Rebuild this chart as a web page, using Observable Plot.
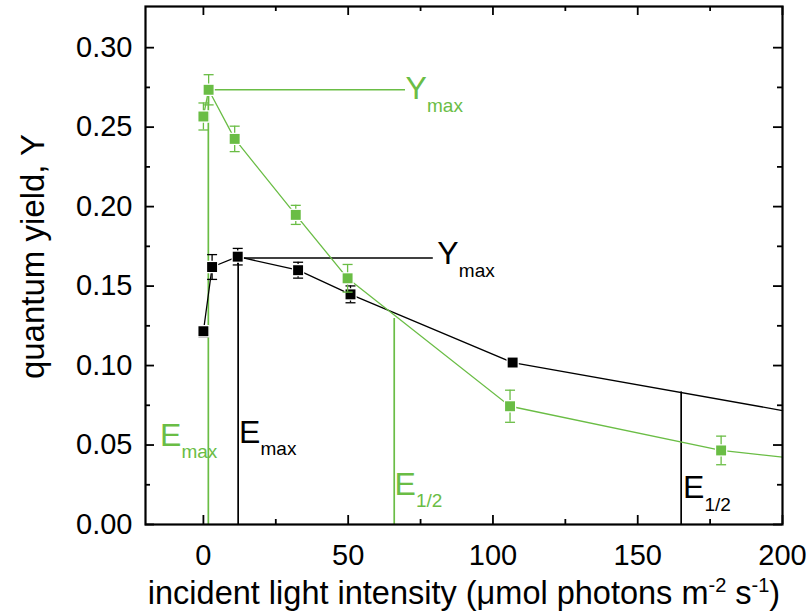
<!DOCTYPE html>
<html><head><meta charset="utf-8">
<script src="https://cdn.jsdelivr.net/npm/d3@7"></script>
<script src="https://cdn.jsdelivr.net/npm/@observablehq/plot@0.6"></script>
<style>body{margin:0;background:#fff} svg{display:block}</style>
</head><body><div id="chart"></div>
<script>
const green = "#6abd45";
// green series (light-acclimated)
const greenX = [0, 1.8, 10.8, 31.9, 49.8, 105.9, 178.8];
const greenY = [0.2567, 0.2735, 0.2426, 0.1948, 0.1549, 0.0744, 0.0466];
const greenErr = [0.0085, 0.0095, 0.008, 0.006, 0.0087, 0.0101, 0.009];
const greenEndX = 200, greenEndY = 0.0424;
// black series
const blackX = [0, 3.0, 11.85, 32.7, 50.8, 106.8];
const blackY = [0.1216, 0.162, 0.1685, 0.160, 0.1448, 0.1019];
const blackErr = [0.0035, 0.0078, 0.0052, 0.005, 0.0053, 0.0015];
const blackEndX = 200, blackEndY = 0.0717;
// axis ticks
const xTicks = [0, 50, 100, 150, 200];
const xMinor = [25, 75, 125, 175];
const yTicks = [0, 0.05, 0.10, 0.15, 0.20, 0.25, 0.30];
const yMinor = [0.025, 0.075, 0.125, 0.175, 0.225, 0.275];
// annotations: E_max / E_1/2 verticals, Y_max horizontals
const vX = [1.7, 12.0, 65.9, 165.0];
const vTop = [0.2735, 0.1677, 0.1296, 0.0834];
const vColor = [green, "black", green, "black"];
const hY = [0.2735, 0.1677];
const hX1 = [1.7, 12.0];
const hX2 = [69.8, 79.4];
const hColor = [green, "black"];
// annotation labels
const labMain = ["E", "E", "Y", "Y", "E", "E"];
const labSub = ["max", "max", "max", "max", "1/2", "1/2"];
const labX = [-15.0, 12.3, 69.8, 80.8, 66.0, 165.6];
const labY = [0.0496, 0.0514, 0.2676, 0.1636, 0.0186, 0.0165];
const labColor = [green, "black", green, "black", green, "black"];
const yTitle = "quantum yield, Y";
const xTitleParts = ["incident light intensity (μmol photons m", "-2", " s", "-1", ")"];

const W = 809, H = 615, mL = 145, mR = 27, mT = 6, mB = 91;
const pw = W - mL - mR, ph = H - mT - mB;

const gPts = greenX.map((x, i) => ({x, y: greenY[i], e: greenErr[i]}));
const bPts = blackX.map((x, i) => ({x, y: blackY[i], e: blackErr[i]}));
const gLine = [...gPts, {x: greenEndX, y: greenEndY}];
const bLine = [...bPts, {x: blackEndX, y: blackEndY}];
const vRules = vX.map((x, i) => ({x, y2: vTop[i], c: vColor[i]}));
const hRules = hY.map((y, i) => ({y, x1: hX1[i], x2: hX2[i], c: hColor[i]}));
const labs = labMain.map((t, i) => ({t, s: labSub[i], x: labX[i], y: labY[i], c: labColor[i]}));

const cap = {draw(ctx, size) { const r = Math.sqrt(size / Math.PI); ctx.moveTo(-r, 0); ctx.lineTo(r, 0); }};

function series(pts, line, color) {
  return [
    Plot.line(line, {x: "x", y: "y", stroke: color, strokeWidth: 1.3}),
    Plot.ruleX(pts, {x: "x", y1: d => d.y - d.e, y2: d => d.y + d.e, stroke: color, strokeWidth: 1.3}),
    Plot.dot(pts, {x: "x", y: d => d.y - d.e, symbol: cap, r: 5, fill: "none", stroke: color, strokeWidth: 1.3}),
    Plot.dot(pts, {x: "x", y: d => d.y + d.e, symbol: cap, r: 5, fill: "none", stroke: color, strokeWidth: 1.3}),
    Plot.dot(pts, {x: "x", y: "y", symbol: "square", r: 5.6, fill: color, stroke: "white", strokeWidth: 2.4, paintOrder: "stroke"})
  ];
}

const chart = Plot.plot({
  width: W, height: H,
  marginLeft: mL, marginRight: mR, marginTop: mT, marginBottom: mB,
  style: {fontFamily: "'Liberation Sans', Arial, sans-serif", background: "white", color: "black"},
  x: {domain: [-20, 200]},
  y: {domain: [0, 0.3259]},
  marks: [
    // annotation guide lines
    Plot.ruleX(vRules, {x: "x", y1: 0, y2: "y2", stroke: "c", strokeWidth: 1.7}),
    Plot.ruleY(hRules, {y: "y", x1: "x1", x2: "x2", stroke: "c", strokeWidth: 1.5}),
    ...series(bPts, bLine, "black"),
    ...series(gPts, gLine, green),
    // annotation labels
    Plot.text(labs, {x: "x", y: "y", text: "t", fill: "c", fontSize: 32, textAnchor: "start", lineAnchor: "bottom"}),
    Plot.text(labs, {x: "x", y: "y", text: "s", fill: "c", fontSize: 19, textAnchor: "start", lineAnchor: "bottom", dx: 21.5, dy: 12.5}),
    // inward ticks on all four sides
    Plot.tickX(xTicks, {x: d => d, insetTop: ph - 9, stroke: "black", strokeWidth: 1.8}),
    Plot.tickX(xMinor, {x: d => d, insetTop: ph - 5, stroke: "black", strokeWidth: 1.8}),
    Plot.tickX(xTicks, {x: d => d, insetBottom: ph - 9, stroke: "black", strokeWidth: 1.8}),
    Plot.tickX(xMinor, {x: d => d, insetBottom: ph - 5, stroke: "black", strokeWidth: 1.8}),
    Plot.tickY(yTicks, {y: d => d, insetRight: pw - 9, stroke: "black", strokeWidth: 1.8}),
    Plot.tickY(yMinor, {y: d => d, insetRight: pw - 5, stroke: "black", strokeWidth: 1.8}),
    Plot.tickY(yTicks, {y: d => d, insetLeft: pw - 9, stroke: "black", strokeWidth: 1.8}),
    Plot.tickY(yMinor, {y: d => d, insetLeft: pw - 5, stroke: "black", strokeWidth: 1.8}),
    Plot.frame({stroke: "black", strokeWidth: 2.2}),
    Plot.axisX(xTicks, {tickSize: 0, tickPadding: 20, fontSize: 29, label: null}),
    Plot.axisY(yTicks, {tickSize: 0, tickPadding: 13, fontSize: 29, tickFormat: d3.format(".2f"), label: null}),
    Plot.text([yTitle], {text: d => d, frameAnchor: "left", textAnchor: "middle", rotate: -90, dx: -112, dy: -9, fontSize: 33}),
    Plot.text([xTitleParts.join("")], {text: d => d, frameAnchor: "bottom", textAnchor: "middle", dy: 79, fontSize: 32.5, lineAnchor: "bottom"})
  ]
});

// superscripts in the x-axis title
d3.select(chart).selectAll("text").filter(function() { return this.textContent === xTitleParts.join(""); })
  .each(function() {
    const t = d3.select(this);
    t.text(null);
    const sup = [false, true, false, true, false];
    xTitleParts.forEach((p, i) => {
      const ts = t.append("tspan").text(p);
      if (sup[i]) ts.attr("font-size", 20).attr("dy", -12);
      else if (i > 0) ts.attr("dy", 12);
    });
  });

document.getElementById("chart").appendChild(chart);
</script>
</body></html>
